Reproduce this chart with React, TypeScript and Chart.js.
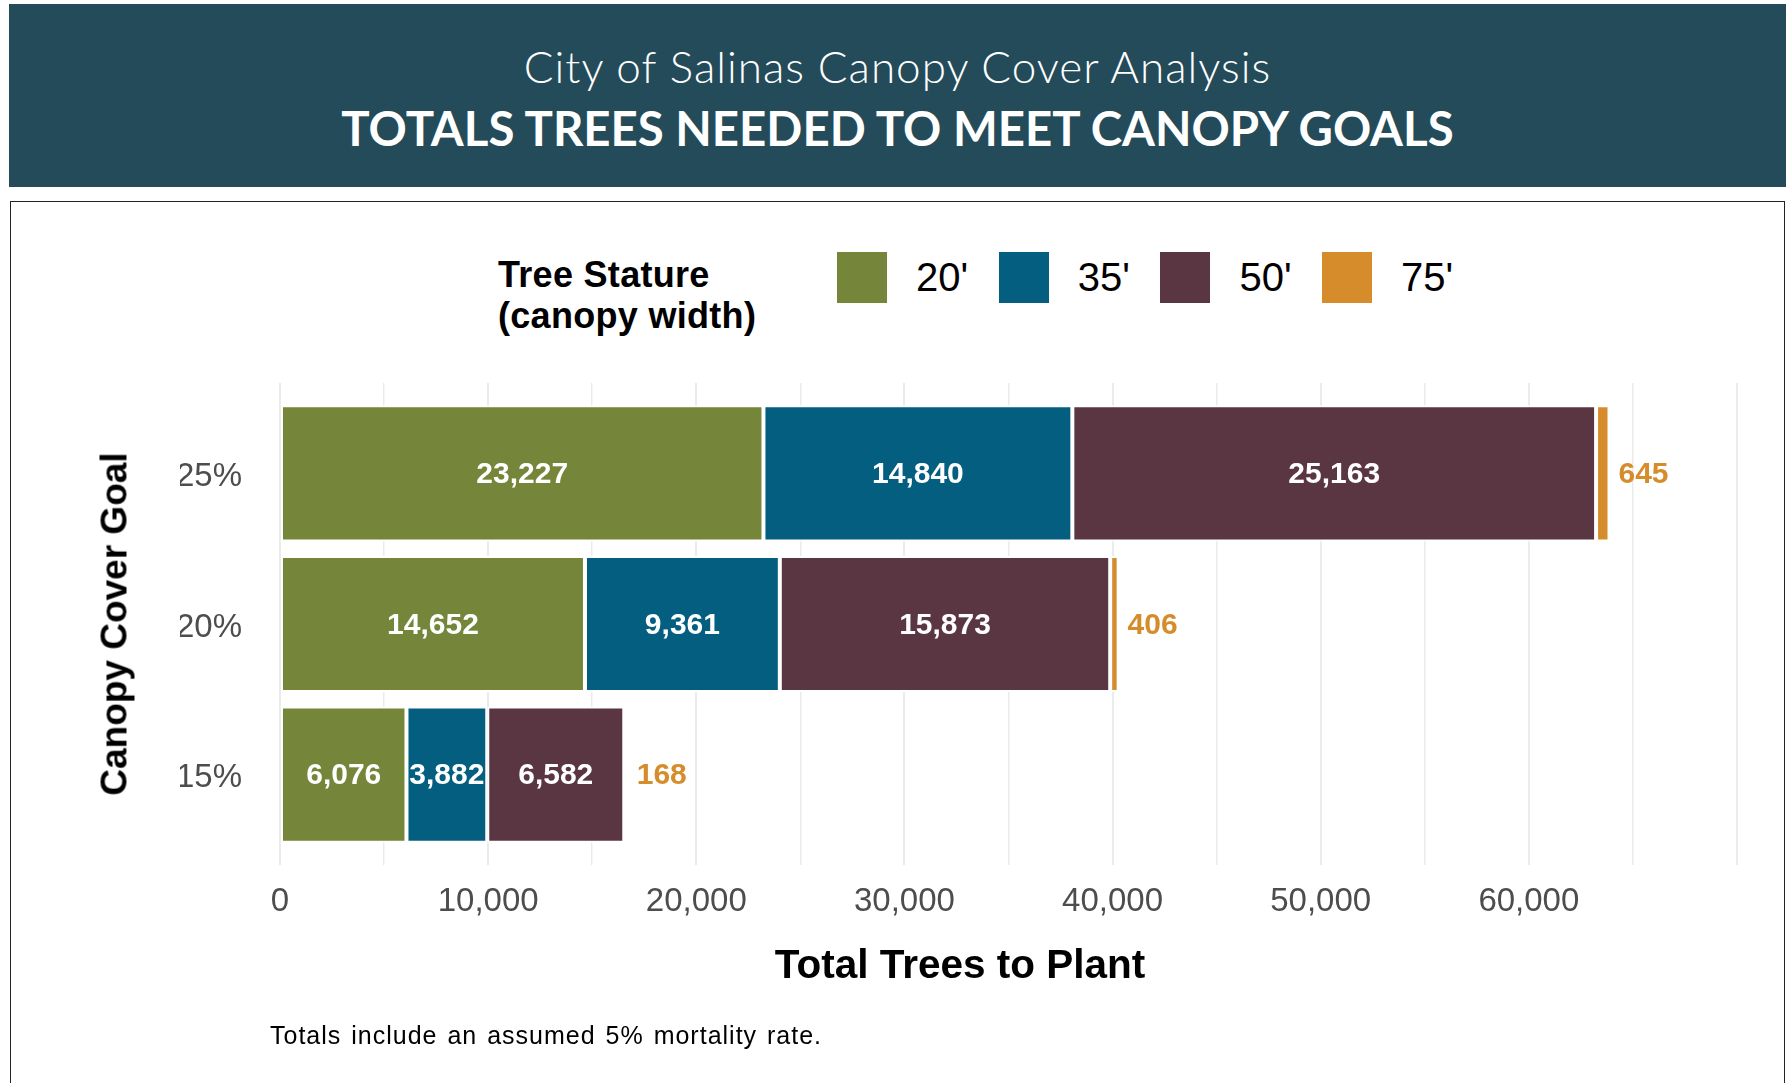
import { useEffect, useRef } from 'react';
import { Chart, registerables } from 'chart.js';

Chart.register(...registerables);

// ---------- data ----------
const categories = ['25%', '20%', '15%'];
const seriesNames = ["20'", "35'", "50'", "75'"];
const values20 = [23227, 14652, 6076];
const values35 = [14840, 9361, 3882];
const values50 = [25163, 15873, 6582];
const values75 = [645, 406, 168];
const seriesValues = [values20, values35, values50, values75];
const seriesColors = ['#758539', '#035e80', '#5a3642', '#d78c2b'];
const xLabelledTicks = [0, 10000, 20000, 30000, 40000, 50000, 60000];
const xMax = 70000;
const xStep = 5000;

const headerLine1 = 'City of Salinas Canopy Cover Analysis';
const headerLine2 = 'TOTALS TREES NEEDED TO MEET CANOPY GOALS';
const legendTitle = ['Tree Stature', '(canopy width)'];
const xTitle = 'Total Trees to Plant';
const yTitle = 'Canopy Cover Goal';
const caption = 'Totals include an assumed 5% mortality rate.';

const SANS = '"Liberation Sans", Arial, Helvetica, sans-serif';
const fmt = (v: number) => v.toLocaleString('en-US');

const labelPlugin = {
  id: 'barLabels',
  afterDatasetsDraw(chart: any) {
    const ctx = chart.ctx;
    chart.data.datasets.forEach((_ds: any, di: number) => {
      const meta = chart.getDatasetMeta(di);
      meta.data.forEach((bar: any, i: number) => {
        const v = seriesValues[di][i];
        const p = bar.getProps(['x', 'y', 'base'], true);
        ctx.save();
        ctx.font = `bold 30px ${SANS}`;
        ctx.textBaseline = 'middle';
        ctx.textAlign = 'center';
        if (di === seriesValues.length - 1) {
          ctx.fillStyle = seriesColors[di];
          ctx.fillText(fmt(v), p.x + 34, p.y + 1.5);
        } else {
          ctx.fillStyle = '#ffffff';
          ctx.fillText(fmt(v), (p.x + p.base) / 2, p.y + 1.5);
        }
        ctx.restore();
      });
    });
  },
};

function ChartCanvas() {
  const ref = useRef<HTMLCanvasElement | null>(null);
  useEffect(() => {
    if (!ref.current) return;
    const chart = new Chart(ref.current, {
      type: 'bar',
      data: {
        datasets: seriesNames.map((name, di) => ({
          label: name,
          data: seriesValues[di].map((v, i) => ({ x: v, y: i })),
          backgroundColor: seriesColors[di],
          borderColor: '#ffffff',
          borderWidth: 2,
          borderSkipped: false,
          categoryPercentage: 1,
          barPercentage: 0.903,
        })),
      },
      options: {
        indexAxis: 'y',
        responsive: false,
        animation: false,
        events: [],
        layout: { padding: { left: 180, right: 55, top: 383, bottom: 158 } },
        plugins: { legend: { display: false }, tooltip: { enabled: false }, title: { display: false } },
        scales: {
          x: {
            type: 'linear',
            stacked: true,
            min: 0,
            max: xMax,
            afterFit: (s: any) => { s.height = 60; },
            grid: {
              color: '#ebebeb',
              lineWidth: (c: any) => (c.tick && c.tick.value % 10000 === 0 ? 2 : 1.5),
              drawTicks: false,
            },
            border: { display: false },
            ticks: {
              stepSize: xStep,
              autoSkip: false,
              maxRotation: 0,
              padding: 17,
              color: '#4d4d4d',
              font: { family: SANS, size: 33 },
              callback: (v: any) => (xLabelledTicks.includes(Number(v)) ? fmt(Number(v)) : ''),
            },
          },
          y: {
            type: 'linear',
            stacked: true,
            reverse: true,
            offset: false,
            min: -0.6,
            max: categories.length - 1 + 0.6,
            afterFit: (s: any) => { s.width = 100; },
            afterBuildTicks: (s: any) => { s.ticks = categories.map((_c, i) => ({ value: i })); },
            grid: { display: false, drawTicks: false, offset: false },
            border: { display: false },
            ticks: {
              padding: 38,
              labelOffset: 3.5,
              color: '#4d4d4d',
              font: { family: SANS, size: 33 },
              callback: (v: any) => categories[Number(v)] ?? '',
            },
          },
        },
      },
      plugins: [labelPlugin],
    } as any);
    return () => chart.destroy();
  }, []);
  return (
    <canvas
      ref={ref}
      width={1792}
      height={1083}
      style={{ position: 'absolute', left: 0, top: 0, width: 1792, height: 1083 }}
    />
  );
}

export default function App() {
  const legendLeft = 837;
  const legendStep = 161.7;
  return (
    <div style={{ position: 'absolute', left: 0, top: 0, width: 1792, height: 1083, overflow: 'hidden', background: '#ffffff' }}>
      {/* header band */}
      <div style={{ position: 'absolute', left: 9, top: 4, width: 1777, height: 183, background: '#244b5a' }}>
        <div style={{ position: 'absolute', left: 0, width: '100%', top: 40, textAlign: 'center', color: '#ffffff', fontFamily: 'Lato, "Open Sans", sans-serif', fontWeight: 300, fontSize: 44, lineHeight: '44px', letterSpacing: 1, whiteSpace: 'nowrap' }}>
          {headerLine1}
        </div>
        <div style={{ position: 'absolute', left: 0, width: '100%', top: 100, textAlign: 'center', color: '#ffffff', fontFamily: 'Lato, "Open Sans", sans-serif', fontWeight: 700, fontSize: 47.4, lineHeight: '47px', whiteSpace: 'nowrap' }}>
          {headerLine2}
        </div>
      </div>
      {/* chart box */}
      <div style={{ position: 'absolute', left: 10, top: 201, width: 1775, height: 1000, border: '1.5px solid #222', boxSizing: 'border-box' }} />
      {/* legend */}
      <div style={{ position: 'absolute', left: 498, top: 254, fontFamily: SANS, fontWeight: 700, fontSize: 36, lineHeight: '41px', letterSpacing: 0.3, color: '#000', whiteSpace: 'nowrap' }}>
        {legendTitle.map((t) => (<div key={t}>{t}</div>))}
      </div>
      {seriesNames.map((name, i) => (
        <div key={name}>
          <div style={{ position: 'absolute', left: legendLeft + i * legendStep, top: 252, width: 50, height: 51, background: seriesColors[i] }} />
          <div style={{ position: 'absolute', left: legendLeft + i * legendStep + 79, top: 257, fontFamily: SANS, fontSize: 40, lineHeight: '40px', color: '#000', whiteSpace: 'nowrap' }}>
            {name}
          </div>
        </div>
      ))}
      <ChartCanvas />
      {/* axis titles */}
      <div style={{ position: 'absolute', left: 960, top: 963.5, transform: 'translate(-50%, -50%)', fontFamily: SANS, fontWeight: 700, fontSize: 40.5, lineHeight: 1, color: '#000', whiteSpace: 'nowrap' }}>
        {xTitle}
      </div>
      <div style={{ position: 'absolute', left: 114, top: 624, transform: 'translate(-50%, -50%) rotate(-90deg)', fontFamily: SANS, fontWeight: 700, fontSize: 37, lineHeight: 1, color: '#000', whiteSpace: 'nowrap' }}>
        {yTitle}
      </div>
      <div style={{ position: 'absolute', left: 270, top: 1023, fontFamily: SANS, fontSize: 25, lineHeight: 1, letterSpacing: 1, wordSpacing: 2, color: '#000', whiteSpace: 'nowrap' }}>
        {caption}
      </div>
    </div>
  );
}
